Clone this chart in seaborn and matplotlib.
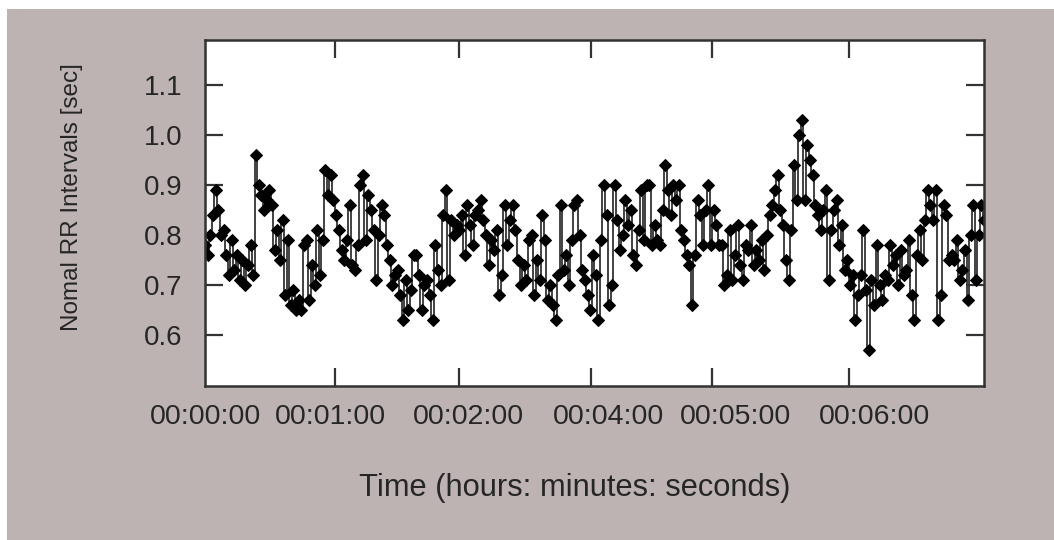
import numpy as np
import pandas as pd
import matplotlib
matplotlib.use("Agg")
import matplotlib.pyplot as plt
from matplotlib.patches import Rectangle
import seaborn as sns

# RR intervals (sec) left to right
rr_part1 = [0.78, 0.76, 0.80, 0.84, 0.89, 0.85,
            0.80, 0.81, 0.76, 0.72, 0.79, 0.73, 0.76, 0.71,
            0.75, 0.70, 0.74, 0.78, 0.72,
            0.96, 0.90, 0.88, 0.85, 0.87, 0.89, 0.86,
            0.77, 0.81, 0.75, 0.83, 0.68, 0.79,
            0.66, 0.69, 0.65, 0.67, 0.65, 0.78,
            0.79, 0.67, 0.74, 0.70, 0.81, 0.72, 0.79, 0.93, 0.88]
rr_part2 = [0.92, 0.87, 0.84, 0.81, 0.77, 0.75, 0.79, 0.86, 0.74, 0.73,
            0.78, 0.90, 0.92, 0.79, 0.88, 0.85, 0.81, 0.71, 0.80, 0.86,
            0.84, 0.78, 0.75, 0.70, 0.72, 0.73, 0.68, 0.63, 0.71, 0.65,
            0.69, 0.76, 0.76, 0.72, 0.65, 0.70, 0.71, 0.68, 0.63, 0.78,
            0.73, 0.70, 0.84, 0.89, 0.71, 0.83, 0.80, 0.82, 0.81, 0.84,
            0.76, 0.86]
rr_part3 = [0.82, 0.78, 0.84, 0.85, 0.87, 0.83, 0.80, 0.74, 0.79, 0.77,
            0.81, 0.68, 0.72, 0.86, 0.78, 0.83, 0.86, 0.81, 0.75, 0.70,
            0.74, 0.71, 0.79, 0.80, 0.68, 0.75, 0.71, 0.84, 0.79, 0.67,
            0.70, 0.66, 0.63, 0.72, 0.86, 0.73, 0.76, 0.70, 0.79, 0.86,
            0.87, 0.80, 0.73, 0.71, 0.68, 0.65, 0.76, 0.72, 0.63, 0.79,
            0.90, 0.84]
rr_part4 = [0.66, 0.70, 0.90, 0.83, 0.77, 0.80, 0.87, 0.82, 0.85, 0.76,
            0.74, 0.81, 0.89, 0.79, 0.90, 0.90, 0.78, 0.82, 0.79, 0.78,
            0.85, 0.94, 0.89, 0.84, 0.90, 0.87, 0.90, 0.81, 0.79, 0.76,
            0.74, 0.66, 0.76, 0.87, 0.84, 0.78, 0.85, 0.90, 0.78, 0.85,
            0.82, 0.78, 0.78, 0.70, 0.72, 0.81, 0.71, 0.76, 0.82, 0.74,
            0.71, 0.78, 0.77, 0.82, 0.74, 0.77, 0.75, 0.79, 0.73, 0.80,
            0.84, 0.86, 0.89, 0.92, 0.85, 0.82, 0.75, 0.71, 0.81, 0.94,
            0.87, 1.00, 1.03]
rr_part5 = [0.87, 0.98, 0.95, 0.92, 0.86, 0.84, 0.81, 0.85, 0.89, 0.71,
            0.81, 0.85, 0.87, 0.78, 0.82, 0.73, 0.75, 0.70, 0.72, 0.63,
            0.68, 0.72, 0.81, 0.69, 0.57, 0.71, 0.66, 0.78, 0.70, 0.67,
            0.72, 0.71, 0.78, 0.74, 0.76, 0.70, 0.77, 0.72, 0.73, 0.79,
            0.68, 0.63, 0.76, 0.81, 0.75, 0.83, 0.89, 0.86, 0.83, 0.89,
            0.63, 0.68, 0.86, 0.84, 0.75, 0.76, 0.75, 0.79, 0.71, 0.73,
            0.77, 0.67, 0.80, 0.86, 0.71, 0.80, 0.86, 0.83]

time_labels = ["00:00:00", "00:01:00", "00:02:00", "00:04:00", "00:05:00", "00:06:00"]
y_ticks = [0.6, 0.7, 0.8, 0.9, 1.0, 1.1]

rr = rr_part1 + rr_part2 + rr_part3 + rr_part4 + rr_part5
df = pd.DataFrame({"beat": np.arange(len(rr)), "rr": rr})

# where the tick marks and the labels sit, as a fraction of the x span
mark_frac = [0.167, 0.326, 0.495, 0.651, 0.827]
label_frac = [0.0, 0.161, 0.338, 0.518, 0.681, 0.860]

bg = "#bdb3b3"
txt = "#262626"

sns.set_theme(style="white")
plt.rcParams["font.family"] = ["Liberation Sans", "DejaVu Sans"]

fig = plt.figure(figsize=(10.54, 5.4), dpi=100, facecolor="white")
fig.patches.append(Rectangle((7 / 1054, 0), 1, 1 - 9 / 540, transform=fig.transFigure,
                             facecolor=bg, edgecolor="none", zorder=-5))
ax = fig.add_axes([0.1945, 0.285, 0.739, 0.641])
ax.set_facecolor("white")

sns.lineplot(data=df, x="beat", y="rr", ax=ax, estimator=None, color="#333333",
             linewidth=1.3, drawstyle="steps-mid", marker="D", markersize=6,
             markerfacecolor="black", markeredgecolor="black")

n = len(rr) - 1
ax.set_xlim(0, n)
ax.set_ylim(0.498, 1.19)

ax.set_yticks(y_ticks)
ax.set_yticklabels([f"{v:.1f}" for v in y_ticks])
ax.set_xticks([f * n for f in label_frac])
ax.set_xticklabels(time_labels)
ax.set_xticks([f * n for f in mark_frac], minor=True)

ax.tick_params(axis="y", which="major", direction="in", length=13, width=1.6,
               color="#333333", left=True, right=True, labelsize=20, labelcolor=txt, pad=16)
ax.tick_params(axis="x", which="major", length=0, labelsize=20.5, labelcolor=txt, pad=13)
ax.tick_params(axis="x", which="minor", direction="in", length=13, width=1.6,
               color="#333333", bottom=True, top=True)

for s in ax.spines.values():
    s.set_color("#333333")
    s.set_linewidth(1.8)

ax.set_xlabel("Time (hours: minutes: seconds)", fontsize=22.2, color=txt)
ax.set_ylabel("Nomal RR Intervals [sec]", fontsize=17.5, color=txt)
ax.xaxis.set_label_coords(0.475, -0.252)
ax.yaxis.set_label_coords(-0.157, 0.546)

fig.savefig("out.png", dpi=100, facecolor=fig.get_facecolor())
